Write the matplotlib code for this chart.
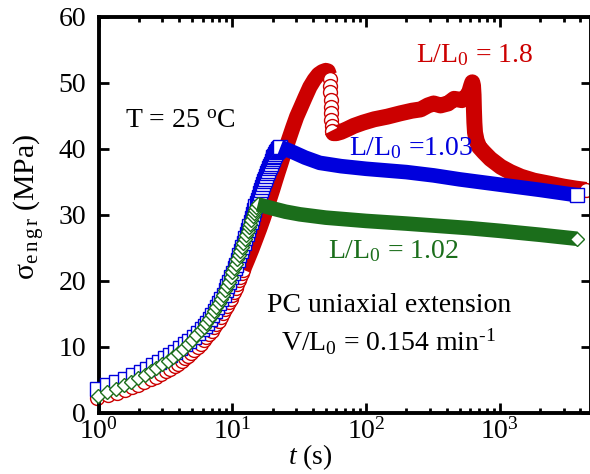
import numpy as np
import matplotlib
matplotlib.use("Agg")
import matplotlib.pyplot as plt
from matplotlib.ticker import LogLocator, NullFormatter

plt.rcParams['font.family'] = ['Liberation Serif', 'DejaVu Serif']
plt.rcParams['mathtext.fontset'] = 'custom'
plt.rcParams['mathtext.rm'] = 'Liberation Serif'
plt.rcParams['mathtext.it'] = 'Liberation Serif:italic'
plt.rcParams['mathtext.bf'] = 'Liberation Serif:bold'

RED = '#cc0000'
BLUE = '#0000dd'
GREEN = '#1b6e1b'

# L/L0 = 1.8 : loading, yield peak, stress drop, drawing, final drop
red_t_load = [0.97, 1.17, 1.37, 1.57, 1.77, 1.97, 2.2, 2.45, 2.7, 2.95, 3.2, 3.45,
              3.7, 3.95, 4.2, 4.45, 4.7, 4.95, 5.2, 5.5, 5.8, 6.1, 6.4, 6.7, 7.0,
              7.3, 7.6, 7.9, 8.2, 8.5, 8.8, 9.1, 9.4, 9.7, 10.0, 10.3, 10.6, 10.9,
              11.2, 11.5, 11.8, 12.1]
red_s_load = [2.3, 2.7, 3.1, 3.5, 3.9, 4.3, 4.7, 5.1, 5.5, 5.9, 6.3, 6.7,
              7.1, 7.5, 7.9, 8.3, 8.7, 9.1, 9.5, 10.0, 10.5, 11.0, 11.5, 12.0, 12.5,
              13.0, 13.5, 14.0, 14.6, 15.1, 15.7, 16.2, 16.8, 17.3, 17.9, 18.4, 19.0, 19.5,
              20.1, 20.6, 21.2, 21.7]
red_t_yield = [12.1, 13, 14, 15, 16, 17, 18, 19, 20, 21, 22, 23, 24, 25.3, 26.8, 28.4,
               30.3, 32.5, 35, 38, 41, 44, 47, 50, 52, 53.3]
red_s_yield = [21.7, 23.2, 24.8, 26.4, 27.9, 29.4, 30.9, 32.4, 33.8, 35.2, 36.5, 37.7,
               38.9, 40.3, 41.8, 43.3, 44.9, 46.3, 47.8, 49.4, 50.5, 51.3, 51.7, 51.9,
               51.8, 51.2]
red_t_drop = [53.8, 54.0, 54.2, 54.4, 54.6, 54.8, 55.0, 55.3, 55.7]
red_s_drop = [50.6, 49.6, 48.6, 47.5, 46.4, 45.4, 44.4, 43.5, 42.8]
red_t_flow = [55.7, 57, 60, 65, 72, 81, 95, 115, 144, 180, 220, 256, 290, 320, 360,
              410, 455, 490, 520, 560, 590, 610, 622, 630, 636, 640, 645, 652, 670,
              700, 760, 850, 1016, 1200, 1440, 1800, 2270, 3000, 3700, 4400]
red_s_flow = [42.8, 42.4, 42.4, 42.6, 43.0, 43.5, 44.0, 44.5, 44.9, 45.4, 45.8, 46.0, 46.6, 46.9, 46.6,
              46.9, 47.6, 47.5, 47.4, 47.9, 48.6, 49.6, 50.1, 49.6, 48.2, 46.0, 44.0, 42.5, 41.3,
              40.3, 39.5, 38.5, 37.3, 36.5, 35.8, 35.2, 34.8, 34.3, 34.0, 33.8]

# L/L0 = 1.03
blue_t_load = [0.97, 1.16, 1.36, 1.58, 1.82, 2.07, 2.32, 2.57, 2.84, 3.13, 3.43, 3.74,
               4.08, 4.42, 4.76, 5.13, 5.5, 5.9, 6.2, 6.5, 6.8, 7.1, 7.4, 7.7, 8.0,
               8.3, 8.6, 8.9, 9.2, 9.5, 9.8, 10.1, 10.4, 10.7, 11.0, 11.3, 11.6, 11.9,
               12.2, 12.5, 12.8, 13.1, 13.4, 13.7, 14.0, 14.3, 14.6, 14.9, 15.2, 15.5,
               15.8, 16.1, 16.4, 16.7, 17.0, 17.3, 17.6, 17.9, 18.2, 18.5, 18.8, 19.1,
               19.4, 19.7, 20.0, 20.3, 20.6, 20.9, 21.2, 21.5, 21.8, 22.1, 22.4, 22.9]
blue_s_load = [3.6, 4.2, 4.7, 5.2, 5.7, 6.2, 6.7, 7.2, 7.7, 8.3, 8.8, 9.3,
               9.85, 10.4, 10.95, 11.5, 12.1, 12.7, 13.2, 13.7, 14.2, 14.8, 15.4, 16.0, 16.6,
               17.2, 17.9, 18.6, 19.2, 19.9, 20.6, 21.2, 21.9, 22.5, 23.2, 23.9, 24.5, 25.2,
               25.8, 26.5, 27.1, 27.8, 28.4, 29.0, 29.6, 30.2, 30.8, 31.3, 31.8, 32.3,
               32.8, 33.3, 33.8, 34.2, 34.7, 35.1, 35.5, 35.9, 36.3, 36.7, 37.1, 37.5,
               37.8, 38.2, 38.5, 38.8, 39.0, 39.3, 39.5, 39.7, 39.9, 40.0, 40.2, 40.3]
blue_t_flow = [22.9, 25, 28.6, 35, 45, 65, 100, 200, 320, 500, 1000, 2000, 3770]
blue_s_flow = [40.3, 40.0, 39.5, 38.7, 37.9, 37.4, 37.0, 36.5, 36.0, 35.4, 34.6, 33.8, 33.0]

# L/L0 = 1.02
green_t_load = [0.99, 1.16, 1.36, 1.55, 1.76, 1.98, 2.22, 2.46, 2.71, 2.99, 3.28, 3.6,
                3.94, 4.27, 4.63, 5.0, 5.4, 5.83, 6.1, 6.4, 6.7, 7.0, 7.3, 7.6, 7.9,
                8.2, 8.5, 8.8, 9.1, 9.4, 9.7, 10.0, 10.3, 10.6, 10.9, 11.2, 11.5, 11.8,
                12.1, 12.4, 12.7, 13.0, 13.3, 13.6, 13.9, 14.2, 14.5, 14.8, 15.1, 15.5]
green_s_load = [2.6, 3.2, 3.7, 4.2, 4.7, 5.3, 5.8, 6.3, 6.8, 7.4, 7.9, 8.5,
                9.1, 9.7, 10.4, 11.1, 11.8, 12.6, 13.1, 13.7, 14.2, 14.8, 15.4, 16.0, 16.6,
                17.3, 17.9, 18.6, 19.3, 19.9, 20.6, 21.3, 21.9, 22.6, 23.3, 23.9, 24.6, 25.2,
                25.8, 26.4, 27.0, 27.6, 28.2, 28.7, 29.3, 29.8, 30.3, 30.8, 31.2, 31.6]
green_t_flow = [15.5, 17, 20, 25, 32, 50, 100, 200, 320, 600, 1000, 2000, 3775]
green_s_flow = [31.6, 31.4, 31.0, 30.5, 30.1, 29.6, 29.1, 28.7, 28.4, 28.0, 27.6, 27.0, 26.4]

fig = plt.figure(figsize=(5.9, 4.74), dpi=100)
ax = fig.add_axes([98.5 / 590, 1 - 413 / 474, (591 - 98.5) / 590, (413 - 17) / 474])


def dots(t, s, marker, ms, color, z):
    ax.plot(t, s, ls='none', marker=marker, ms=ms, mfc='white', mec=color,
            mew=1.0, zorder=z, clip_on=False)


def band(t, s, color, z, lw=10.5):
    # densely sampled stretches, where the open symbols merge into a solid trace
    ax.plot(t, s, color=color, lw=lw, solid_capstyle='butt',
            solid_joinstyle='round', zorder=z, clip_on=False)


dots(red_t_load, red_s_load, 'o', 10, RED, 2)
band(red_t_yield, red_s_yield, RED, 2, lw=11)
dots(red_t_drop, red_s_drop, 'o', 10, RED, 2)
band(red_t_flow, red_s_flow, RED, 2, lw=11.5)
dots(red_t_flow[-1:], red_s_flow[-1:], 'o', 10, RED, 2)

dots(blue_t_load, blue_s_load, 's', 9.5, BLUE, 3)
band(blue_t_flow, blue_s_flow, BLUE, 3)
dots(blue_t_flow[-1:], blue_s_flow[-1:], 's', 9.5, BLUE, 3)

dots(green_t_load, green_s_load, 'D', 7.0, GREEN, 4)
band(green_t_flow, green_s_flow, GREEN, 4)
dots(green_t_flow[-1:], green_s_flow[-1:], 'D', 7.0, GREEN, 4)

ax.set_xscale('log')
ax.set_xlim(1, 4800)
ax.set_ylim(0, 60)
ax.set_yticks([0, 10, 20, 30, 40, 50, 60])
ax.xaxis.set_minor_locator(LogLocator(base=10, subs=np.arange(2, 10)))
ax.xaxis.set_minor_formatter(NullFormatter())

for sp in ax.spines.values():
    sp.set_linewidth(2.8)
ax.tick_params(which='both', direction='in', top=True, right=True, labelsize=20)
ax.tick_params(which='major', length=7.5, width=2)
ax.tick_params(which='minor', length=3.8, width=2)
ax.tick_params(axis='y', pad=9)
ax.tick_params(axis='x', pad=4)

ax.set_xlabel(r'$t$ (s)', fontsize=20)
ax.set_ylabel(r'σ$_{\rm e\,n\,g\,r}$ (MPa)', fontsize=21.5)
ax.xaxis.set_label_coords(0.431, -0.075)
ax.yaxis.set_label_coords(-0.105, 0.52)

fs = 20
ax.text(1.58, 43.2, r'T = 25 $^{\rm o}$C', fontsize=fs, zorder=6)
ax.text(235, 53.2, r'L/L$_0$ = 1.8', color=RED, fontsize=fs, zorder=6)
ax.text(74, 39.1, r'L/L$_0$ =1.03', color=BLUE, fontsize=fs, zorder=6)
ax.text(51.5, 23.5, r'L/L$_0$ = 1.02', color=GREEN, fontsize=fs, zorder=6)
ax.text(147.5, 15.3, 'PC uniaxial extension', fontsize=fs, ha='center', zorder=6)
ax.text(147.5, 9.5, r'V/L$_0$ = 0.154 min$^{\text{-}1}$', fontsize=fs, ha='center', zorder=6)

fig.savefig('out.png', dpi=100)
